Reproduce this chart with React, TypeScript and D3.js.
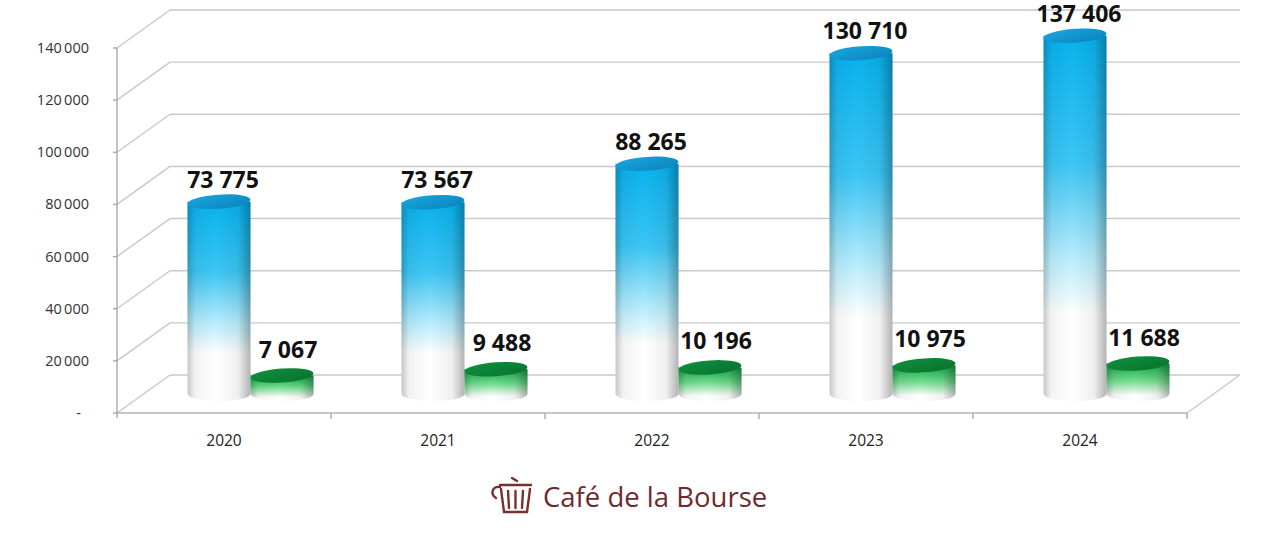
import * as d3 from "d3";

const years = ["2020", "2021", "2022", "2023", "2024"];
const blueValues = [73775, 73567, 88265, 130710, 137406];
const greenValues = [7067, 9488, 10196, 10975, 11688];
const yTicks = [0, 20000, 40000, 60000, 80000, 100000, 120000, 140000];

const W = 1280;
const H = 533;
const left = 117;
const right = 1187;
const bottom = 413;
const top = 48;
const depthX = 53;
const depthY = -38;

const fmt = (v: number) => (v === 0 ? "-" : d3.format(",")(v).replace(/,/g, "\u2009"));
const fmtLabel = (v: number) => d3.format(",")(v).replace(/,/g, " ");

function Cylinder({ cx, yTop, yBase, rx, ry, body, cap, shade }: any) {
  const d = `M${cx - rx},${yTop} L${cx - rx},${yBase} A${rx},${ry} 0 0 0 ${cx + rx},${yBase} L${cx + rx},${yTop} Z`;
  return (
    <g>
      <path d={d} fill={`url(#${body})`} />
      <path d={d} fill={`url(#${shade})`} />
      <ellipse cx={cx} cy={yTop} rx={rx} ry={ry} fill={`url(#${cap})`} transform={`rotate(-4 ${cx} ${yTop})`} />
    </g>
  );
}

export default function App() {
  const x = d3.scaleBand<string>().domain(years).range([left, right]);
  const y = d3.scaleLinear().domain([0, 140000]).range([bottom, top]);
  const midDX = depthX / 2;
  const midDY = depthY / 2;
  const rx = 31.5;
  const ry = 7;
  const font = "'Open Sans', 'DejaVu Sans', sans-serif";

  return (
    <svg width={W} height={H} style={{ position: "absolute", left: 0, top: 0, background: "#fff" }}>
      <defs>
        <linearGradient id="blueBody" x1="0" y1="0" x2="0" y2="1">
          <stop offset="0" stopColor="#08b2ee" />
          <stop offset="0.35" stopColor="#3cc6f5" />
          <stop offset="0.6" stopColor="#b4ecfd" />
          <stop offset="0.76" stopColor="#ffffff" />
          <stop offset="1" stopColor="#ffffff" />
        </linearGradient>
        <linearGradient id="greenBody" x1="0" y1="0" x2="0" y2="1">
          <stop offset="0" stopColor="#14a347" />
          <stop offset="0.45" stopColor="#6fdc8d" />
          <stop offset="0.85" stopColor="#ffffff" />
          <stop offset="1" stopColor="#ffffff" />
        </linearGradient>
        <linearGradient id="shade" x1="0" y1="0" x2="1" y2="0">
          <stop offset="0" stopColor="#000" stopOpacity="0.22" />
          <stop offset="0.12" stopColor="#000" stopOpacity="0.05" />
          <stop offset="0.45" stopColor="#000" stopOpacity="0" />
          <stop offset="0.8" stopColor="#000" stopOpacity="0.06" />
          <stop offset="1" stopColor="#000" stopOpacity="0.3" />
        </linearGradient>
        <linearGradient id="blueCap" x1="0" y1="0" x2="1" y2="1">
          <stop offset="0" stopColor="#1aa6de" />
          <stop offset="1" stopColor="#0a83bd" />
        </linearGradient>
        <linearGradient id="greenCap" x1="0" y1="0" x2="1" y2="1">
          <stop offset="0" stopColor="#10903d" />
          <stop offset="1" stopColor="#08722e" />
        </linearGradient>
      </defs>

      {/* back wall gridlines and left wall diagonals */}
      {yTicks.map((t) => (
        <g key={t} stroke="#c9c9c9" strokeWidth={1.4} fill="none">
          <line x1={left + depthX} x2={right + depthX} y1={y(t) + depthY} y2={y(t) + depthY} />
          <line x1={left} x2={left + depthX} y1={y(t)} y2={y(t) + depthY} />
        </g>
      ))}

      {/* floor */}
      <line x1={left} x2={right} y1={bottom} y2={bottom} stroke="#b5b5b5" strokeWidth={1.4} />
      <line x1={right} x2={right + depthX} y1={bottom} y2={bottom + depthY} stroke="#c9c9c9" strokeWidth={1.4} />
      <line x1={left} x2={left} y1={top} y2={bottom + 5} stroke="#a8a8a8" strokeWidth={1.4} />

      {/* y ticks and labels */}
      {yTicks.map((t) => (
        <g key={t}>
          <line x1={left - 4} x2={left} y1={y(t)} y2={y(t)} stroke="#a8a8a8" strokeWidth={1.4} />
          <text x={t === 0 ? 81 : 89} y={y(t) + 5} textAnchor="end" fontFamily={font} fontSize={14.5} fill="#333">
            {fmt(t)}
          </text>
        </g>
      ))}

      {/* x ticks and labels */}
      {years.map((yr) => (
        <line key={yr} x1={x(yr)! + x.bandwidth()} x2={x(yr)! + x.bandwidth()} y1={bottom} y2={bottom + 6} stroke="#a8a8a8" strokeWidth={1.4} />
      ))}
      {years.map((yr) => (
        <text key={yr} x={x(yr)! + x.bandwidth() / 2} y={446} textAnchor="middle" fontFamily={font} fontSize={15.5} fill="#222">
          {yr}
        </text>
      ))}

      {/* cylinders */}
      {years.map((yr, i) => {
        const c = x(yr)! + x.bandwidth() / 2 + midDX;
        const base = y(0) + midDY;
        const bTop = y(blueValues[i]) + midDY;
        const gTop = y(greenValues[i]) + midDY;
        return (
          <g key={yr}>
            <Cylinder cx={c - rx} yTop={bTop} yBase={base} rx={rx} ry={ry} body="blueBody" cap="blueCap" shade="shade" />
            <Cylinder cx={c + rx} yTop={gTop} yBase={base} rx={rx} ry={ry} body="greenBody" cap="greenCap" shade="shade" />
            <text x={c - rx + 4} y={bTop - 14} textAnchor="middle" fontFamily={font} fontWeight={700} fontSize={23} fill="#111">
              {fmtLabel(blueValues[i])}
            </text>
            <text x={c + rx + 6} y={gTop - 18} textAnchor="middle" fontFamily={font} fontWeight={700} fontSize={23} fill="#111">
              {fmtLabel(greenValues[i])}
            </text>
          </g>
        );
      })}

      {/* logo */}
      <g stroke="#7a2f31" strokeWidth={2.4} fill="none" strokeLinecap="round">
        <path d="M500,487 C492,486 490,494 496,498" />
        <path d="M500,485 L531,485" />
        <path d="M501,489 L504,512 L527,512 L530,489" />
        <path d="M508,491 L509,508 M515.5,491 L515.5,508 M523,491 L522,508" />
        <path d="M512,478 L517,481" />
      </g>
      <text x={543} y={507} fontFamily={font} fontSize={27.5} fill="#6e2a2e">
        Café de la Bourse
      </text>
    </svg>
  );
}
